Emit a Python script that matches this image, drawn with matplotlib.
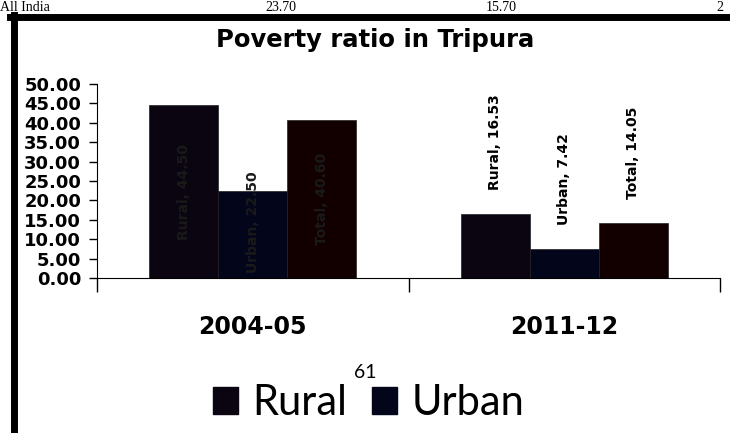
import numpy as np
import matplotlib.pyplot as plt
from matplotlib.patches import Patch
from matplotlib.lines import Line2D

years = ['2004-05', '2011-12']
series = ['Rural', 'Urban', 'Total']
rural = [44.50, 16.53]
urban = [22.50, 7.42]
total = [40.60, 14.05]
colors = ['#0a0510', '#03051a', '#120000']

fig = plt.figure(figsize=(7.3, 4.33), dpi=100)
ax = fig.add_axes([97 / 730, 1 - 278 / 433, (720 - 97) / 730, (278 - 84) / 433])

x = np.arange(len(years)) + 0.5
w = 0.222
vals = [rural, urban, total]
for i, (name, v) in enumerate(zip(series, vals)):
    xs = x + (i - 1) * w
    ax.bar(xs, v, width=w, color=colors[i], edgecolor='#222222', linewidth=0.5, label=name)
    for j in range(len(years)):
        txt = '%s, %.2f' % (name, v[j])
        if j == 0:
            # labels pushed inside the bars, black on black
            ax.text(xs[j], max(v[j] / 2, 14.5), txt, rotation=90, ha='center', va='center',
                    fontsize=10, fontweight='bold', color='#1a1a1a')
        else:
            ax.annotate(txt, (xs[j], v[j]), xytext=(0, 24), textcoords='offset pixels',
                        rotation=90, ha='center', va='bottom', fontsize=10, fontweight='bold',
                        color='black')

ax.set_xlim(0, 2)
ax.set_ylim(0, 50)
yt = np.arange(0, 51, 5)
ax.set_yticks(yt)
ax.set_yticklabels(['%.2f' % t for t in yt], fontsize=13, fontweight='bold')
ax.tick_params(axis='y', length=6, width=1, pad=5.5)
ax.set_xticks([0, 1, 2])
ax.set_xticklabels([])
ax.tick_params(axis='x', length=10, width=1)
ax.set_xticks(x, minor=True)
ax.set_xticklabels(years, minor=True, fontsize=17, fontweight='bold')
ax.tick_params(axis='x', which='minor', length=0, pad=27)
for s in ['top', 'right']:
    ax.spines[s].set_visible(False)

fig.text(375 / 730, 1 - 40 / 433, 'Poverty ratio in Tripura', ha='center', va='center',
         fontsize=17.5, fontweight='bold')
fig.text(365 / 730, 1 - 372 / 433, '61', ha='center', va='center', fontsize=14, family='Lato')

# cut-off line of the page above the chart
top_y = 1 - 11 / 433
for xp, t in [(0, 'All India'), (265, '23.70'), (486, '15.70'), (716, '2')]:
    fig.text(xp / 730, top_y, t, ha='left', va='baseline', fontsize=10, family='Liberation Serif')

# chart frame
fig.add_artist(Line2D([13.5 / 730, 13.5 / 730], [0, 1 - 15 / 433], color='black', lw=5))
fig.add_artist(Line2D([10 / 730, 1], [1 - 17 / 433, 1 - 17 / 433], color='black', lw=5))

handles = [Patch(color=colors[0]), Patch(color=colors[1])]
fig.legend(handles, ['Rural', 'Urban'], loc='center left', bbox_to_anchor=(175 / 730, 1 - 403 / 433),
           ncol=2, frameon=False, handlelength=0.6, handleheight=0.6,
           handletextpad=0.35, columnspacing=0.6, prop={'family': 'Lato', 'size': 30})

fig.savefig('out.png', dpi=100)
